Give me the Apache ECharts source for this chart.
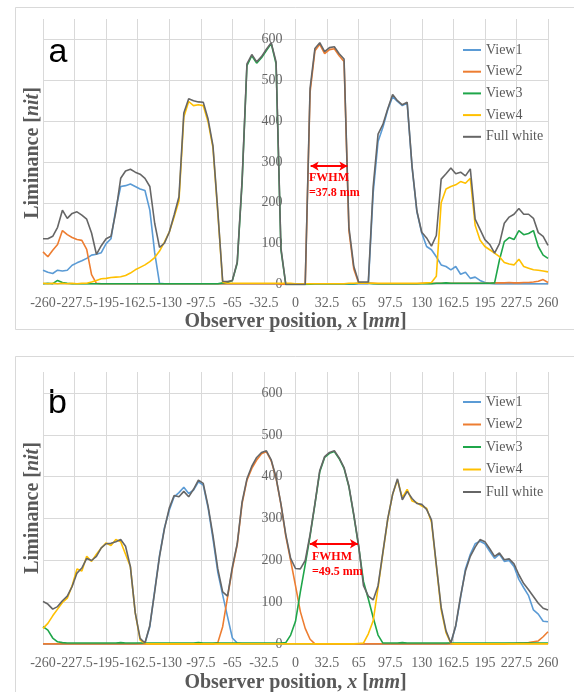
<!DOCTYPE html>
<html>
<head>
<meta charset="utf-8">
<script src="https://cdn.jsdelivr.net/npm/echarts@6/dist/echarts.min.js"></script>
<style>html,body{margin:0;padding:0;background:#fff;}#c{width:574px;height:692px;}</style>
</head>
<body>
<div id="c"></div>
<script>
// Observer positions (mm), shared by all series
const xPos = [
-260,-255,-250,-245,-240,-235,-230,-225,-220,-215,-210,-205,-200,
-195,-190,-185,-180,-175,-170,-165,-160,-155,-150,-145,-140,-135,
-130,-125,-120,-115,-110,-105,-100,-95,-90,-85,-80,-75,-70,
-65,-60,-55,-50,-45,-40,-35,-30,-25,-20,-15,-10,-5,
0,5,10,15,20,25,30,35,40,45,50,55,60,
65,70,75,80,85,90,95,100,105,110,115,120,125,
130,135,140,145,150,155,160,165,170,175,180,185,190,
195,200,205,210,215,220,225,230,235,240,245,250,255,
260];

const seriesNames = ['View1','View2','View3','View4','Full white'];
const xTicks = {min:-260, max:260, interval:32.5};
const yTicks = {min:0, max:650, interval:100};

// ---- Panel a ----
const aView1 = [
35,30,27,35,33,35,47,53,58,64,72,74,78,
100,112,185,240,242,246,240,234,230,182,78,3,2,
2,2,2,2,2,2,2,2,2,2,2,2,2,
2,2,2,2,2,2,2,2,2,2,1,0,0,
0,0,0,1,1,1,1,1,1,1,1,1,1,
2,2,2,225,350,385,428,460,448,438,444,288,178,
126,93,85,68,48,44,36,44,25,30,15,18,10,
5,3,2,2,2,2,2,2,2,2,2,2,2,
2];
const aView2 = [
80,68,84,98,132,122,115,110,108,86,24,3,2,
2,2,2,2,2,2,2,2,2,2,2,2,2,
2,2,2,2,2,2,2,2,2,2,2,2,2,
2,2,2,2,2,2,2,2,2,2,1,0,0,
0,0,0,470,572,588,565,575,577,560,546,132,38,
4,3,3,3,2,2,2,2,2,2,2,2,2,
3,3,3,3,3,3,3,3,3,3,3,3,3,
3,3,4,4,4,5,4,4,5,5,6,8,12,
5];
const aView3 = [
2,3,2,10,5,3,2,2,2,2,2,2,2,
2,2,2,2,2,2,2,2,2,2,2,2,2,
2,2,2,2,2,2,2,2,2,2,2,4,5,
10,52,250,536,560,542,555,573,590,540,85,0,0,
0,0,0,1,2,2,2,2,2,2,2,2,2,
3,3,3,2,2,2,2,2,2,2,2,2,2,
2,2,2,3,3,4,3,3,3,3,3,3,3,
3,3,4,60,105,115,110,132,122,125,132,93,72,
64];
const aView4 = [
3,2,3,2,3,2,3,2,3,3,6,10,14,
15,17,18,19,22,28,36,42,48,56,66,82,104,
128,165,205,410,448,438,440,438,398,335,175,6,3,
3,3,3,3,3,3,3,3,3,3,3,3,3,
2,2,2,2,2,2,2,2,2,2,2,3,3,
3,3,3,3,3,3,3,3,3,3,3,3,3,
3,4,5,20,200,234,240,244,252,248,260,145,109,
93,85,77,68,54,50,48,62,44,40,36,35,33,
31];
const aFull = [
112,112,118,140,182,162,174,178,170,160,126,74,95,
112,118,178,260,278,282,275,270,260,240,150,91,101,
128,170,215,420,455,450,447,446,405,340,180,8,7,
10,55,255,540,563,545,558,576,592,545,90,0,0,
0,0,0,480,578,592,570,580,582,565,552,140,45,
6,6,6,240,368,392,430,465,450,440,446,290,180,
128,114,94,120,258,271,285,271,275,266,283,160,135,
110,98,77,100,150,165,172,186,172,172,162,127,118,
96];

// ---- Panel b ----
const bView1 = [
1,1,1,1,1,1,1,1,1,1,1,1,1,
1,1,1,1,1,1,1,2,3,42,128,212,278,
320,352,362,375,360,368,388,380,326,252,172,118,66,
15,3,1,1,1,1,1,1,1,1,1,1,1,
1,1,1,1,1,1,1,1,1,1,1,1,1,
1,1,1,1,1,1,1,1,1,1,1,1,1,
1,1,1,1,1,1,3,43,112,180,215,240,246,
240,222,205,215,198,200,186,155,135,116,82,72,55,
54];
const bView2 = [
1,1,1,1,1,1,1,1,1,1,1,1,1,
1,1,1,1,1,1,1,1,1,1,1,1,1,
1,1,1,1,1,1,1,1,1,1,4,42,112,
180,238,336,392,420,440,455,460,438,396,334,258,200,
140,78,38,12,1,1,1,1,1,1,1,1,1,
1,1,1,1,1,1,1,1,1,1,1,1,1,
1,1,1,1,1,1,1,1,1,1,1,1,1,
1,1,1,1,1,2,2,3,3,4,6,8,18,
30];
const bView3 = [
42,34,15,6,4,3,3,3,3,3,3,3,3,
3,3,3,4,3,3,3,3,3,3,3,3,3,
3,3,3,3,3,3,4,3,3,3,3,3,3,
3,3,3,3,3,3,3,3,3,3,3,4,22,
55,125,190,258,334,412,446,456,460,443,420,376,308,
234,150,108,64,22,3,3,3,3,4,3,3,3,
3,3,3,3,3,3,3,3,3,3,3,3,3,
3,3,3,3,3,3,3,3,3,3,3,3,3,
3];
const bView4 = [
38,50,68,84,100,110,140,180,175,210,198,215,230,
242,236,250,245,215,185,75,10,2,1,1,1,1,
1,1,1,1,1,1,1,1,1,1,1,1,1,
1,1,1,1,1,1,1,1,1,1,1,1,1,
1,1,1,1,1,1,1,1,1,1,1,1,1,
2,3,25,56,135,218,298,358,392,350,370,342,338,
330,325,292,188,82,28,2,1,1,1,1,1,1,
1,1,1,1,1,1,1,1,1,1,1,1,1,
1];
const bFull = [
102,96,84,90,104,115,138,170,182,205,200,210,230,
240,241,245,250,234,185,75,14,3,45,125,210,275,
325,355,352,365,352,370,392,384,330,260,180,125,115,
185,240,340,395,425,446,458,462,440,398,335,262,205,
181,180,200,262,336,415,448,458,462,445,422,378,310,
236,140,115,106,140,220,300,358,395,345,365,348,336,
334,322,297,190,88,32,3,45,115,175,210,232,250,
245,228,210,218,202,204,192,166,145,130,114,98,86,
82];

// FWHM annotations: [start x, end x, level, text]
const fwhmA = [15.6, 53.4, 290, '=37.8 mm'];
const fwhmB = [14.8, 64.3, 240, '=49.5 mm'];

const colors = ['#5B9BD5','#ED7D31','#1FA64A','#FFC000','#666666'];
const serif = '"Liberation Serif","Times New Roman",serif';
const txt = '#595959';
const gridLeft = 43, gridWidth = 505;

function pairs(ys){ return xPos.map((x,i)=>[x, ys[i]]); }

function makeSeries(arrs, idx, fw){
  return arrs.map((ys,k)=>{
    const s = {
      name: seriesNames[k], type:'line', xAxisIndex: idx, yAxisIndex: idx,
      data: pairs(ys), symbol:'none', showSymbol:false,
      lineStyle:{width:1.6, color: colors[k]}, itemStyle:{color: colors[k]},
      emphasis:{disabled:true}, z: 2 + k*0.01
    };
    if (k === 4) {
      s.markLine = {
        silent:true, symbol:['arrow','arrow'], symbolSize:[7,8], animation:false,
        lineStyle:{color:'#FF0000', type:'solid', width:2},
        label:{show:false},
        data:[[{coord:[fw[0], fw[2]]},{coord:[fw[1], fw[2]]}]]
      };
    }
    return s;
  });
}

function xAxisCfg(idx, gap){
  return {
    type:'value', gridIndex: idx, min: xTicks.min, max: xTicks.max, interval: xTicks.interval,
    axisLine:{show:false, onZero:false}, axisTick:{show:false},
    splitLine:{show:true, lineStyle:{color:'#d9d9d9', width:1}},
    axisLabel:{color:'#666', fontFamily: serif, fontSize:14, margin:12, showMinLabel:true, showMaxLabel:true, hideOverlap:false},
    name:'Observer position, {i|x} [{i|mm}]', nameLocation:'middle', nameGap: gap,
    nameTextStyle:{color:txt, fontFamily:serif, fontSize:20, fontWeight:'bold',
      rich:{i:{fontStyle:'italic', fontWeight:'bold', fontFamily:serif, fontSize:20, color:txt}}}
  };
}
// y axis sits at x = 0 of the horizontal axis
const yAxisOffset = -(0 - xTicks.min) / (xTicks.max - xTicks.min) * gridWidth;
function yAxisCfg(idx){
  return {
    type:'value', gridIndex: idx, min: yTicks.min, max: yTicks.max, interval: yTicks.interval,
    position:'left', offset: yAxisOffset,
    axisLine:{show:false, onZero:false}, axisTick:{show:false},
    splitLine:{show:true, showMaxLine:false, lineStyle:{color:'#d9d9d9', width:1}},
    axisLabel:{color:'#666', fontFamily: serif, fontSize:14, margin:13, showMaxLabel:false,
      formatter: v => (v === yTicks.max ? '' : String(v))}
  };
}
function legendCfg(top, gap){
  return {
    data: seriesNames, orient:'vertical', left:463, top: top, itemGap: gap, padding:0,
    icon:'rect', itemWidth:18, itemHeight:2, selectedMode:false,
    textStyle:{color:txt, fontFamily:serif, fontSize:14, lineHeight:14}
  };
}

const chart = echarts.init(document.getElementById('c'), null, {renderer:'canvas'});
chart.setOption({
  animation:false,
  backgroundColor:'#ffffff',
  grid:[
    {left:gridLeft, top:19, width:gridWidth, height:265.5, outerBoundsMode:'none', containLabel:false},
    {left:gridLeft, top:372, width:gridWidth, height:272.3, outerBoundsMode:'none', containLabel:false}
  ],
  xAxis:[xAxisCfg(0, 27), xAxisCfg(1, 29)],
  yAxis:[yAxisCfg(0), yAxisCfg(1)],
  legend:[legendCfg(43, 7.7), legendCfg(395, 8.5)],
  series: [].concat(
    makeSeries([aView1,aView2,aView3,aView4,aFull], 0, fwhmA),
    makeSeries([bView1,bView2,bView3,bView4,bFull], 1, fwhmB)
  ),
  graphic:[
    {type:'rect', silent:true, z:-10, shape:{x:15.5, y:7.5, width:570, height:322}, style:{fill:'none', stroke:'#d9d9d9', lineWidth:1}},
    {type:'rect', silent:true, z:-10, shape:{x:15.5, y:356.5, width:570, height:400}, style:{fill:'none', stroke:'#d9d9d9', lineWidth:1}},
    {type:'text', x:48.5, y:53, style:{text:'a', font:'34px "Liberation Sans",Arial,sans-serif', fill:'#000', verticalAlign:'middle'}},
    {type:'text', x:48, y:404, style:{text:'b', font:'34px "Liberation Sans",Arial,sans-serif', fill:'#000', verticalAlign:'middle'}},
    {type:'text', x:33, y:153, rotation:Math.PI/2, style:{text:'Liminance [{i|nit}]', fontFamily:serif, fontSize:20, fontWeight:'bold', fill:txt, align:'center', verticalAlign:'middle',
      rich:{i:{fontStyle:'italic', fontWeight:'bold', fontFamily:serif, fontSize:20, fill:txt, color:txt}}}},
    {type:'text', x:33, y:508, rotation:Math.PI/2, style:{text:'Liminance [{i|nit}]', fontFamily:serif, fontSize:20, fontWeight:'bold', fill:txt, align:'center', verticalAlign:'middle',
      rich:{i:{fontStyle:'italic', fontWeight:'bold', fontFamily:serif, fontSize:20, fill:txt, color:txt}}}},
    {type:'text', x:309, y:178, z:10, style:{text:'FWHM', font:'bold 12px "Liberation Serif",serif', fill:'#FF0000', verticalAlign:'middle'}},
    {type:'text', x:309, y:193, z:10, style:{text:fwhmA[3], font:'bold 12px "Liberation Serif",serif', fill:'#FF0000', verticalAlign:'middle'}},
    {type:'text', x:312, y:557, z:10, style:{text:'FWHM', font:'bold 12px "Liberation Serif",serif', fill:'#FF0000', verticalAlign:'middle'}},
    {type:'text', x:312, y:572, z:10, style:{text:fwhmB[3], font:'bold 12px "Liberation Serif",serif', fill:'#FF0000', verticalAlign:'middle'}}
  ]
});
</script>
</body>
</html>
